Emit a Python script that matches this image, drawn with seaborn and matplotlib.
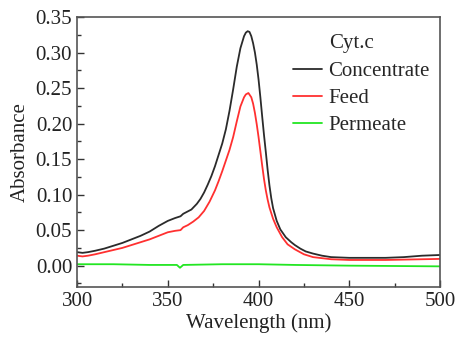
import numpy as np
import pandas as pd
import matplotlib
matplotlib.use("Agg")
import matplotlib.pyplot as plt
from matplotlib.ticker import MultipleLocator
import seaborn as sns

# values
wl_conc = [300, 303, 306, 310, 315, 320, 325, 330, 335, 340, 345, 350, 354, 357,
           358.5, 360, 363, 366, 368, 370, 372, 374, 376, 378, 380, 382, 384, 386,
           388, 390, 392, 393, 394, 395, 396, 397, 398, 399, 400, 401, 402, 403,
           404, 405, 406, 407, 408, 410, 412, 415, 418, 420, 423, 426, 430, 435,
           440, 450, 460, 470, 480, 490, 500]
abs_conc = [0.019, 0.018, 0.019, 0.021, 0.024, 0.028, 0.032, 0.037, 0.042, 0.048, 0.056, 0.063, 0.067, 0.0695,
            0.073, 0.075, 0.079, 0.087, 0.094, 0.103, 0.114, 0.126, 0.140, 0.156, 0.172, 0.192, 0.218, 0.248,
            0.280, 0.306, 0.323, 0.328, 0.330, 0.329, 0.323, 0.313, 0.300, 0.283, 0.262, 0.237, 0.210, 0.184,
            0.160, 0.135, 0.113, 0.095, 0.081, 0.063, 0.051, 0.040, 0.033, 0.029, 0.024, 0.020, 0.017, 0.014,
            0.012, 0.011, 0.011, 0.011, 0.012, 0.014, 0.015]

wl_feed = [300, 303, 306, 310, 315, 320, 325, 330, 335, 340, 345, 350, 354, 357,
           358.5, 361, 364, 367, 370, 373, 376, 378, 380, 382, 384, 386, 388, 390,
           392, 393, 394.4, 396, 397, 398, 399, 400, 401, 402, 403, 404, 405, 406,
           408, 410, 413, 416, 420, 425, 430, 440, 450, 470, 490, 500]
abs_feed = [0.014, 0.013, 0.014, 0.016, 0.019, 0.022, 0.025, 0.029, 0.033, 0.037, 0.042, 0.047, 0.049, 0.050,
            0.054, 0.057, 0.062, 0.068, 0.077, 0.090, 0.106, 0.119, 0.133, 0.148, 0.163, 0.181, 0.203, 0.224,
            0.237, 0.241, 0.243, 0.237, 0.228, 0.215, 0.199, 0.181, 0.161, 0.141, 0.122, 0.106, 0.093, 0.082,
            0.066, 0.054, 0.040, 0.030, 0.023, 0.016, 0.012, 0.009, 0.008, 0.008, 0.009, 0.0095]

wl_perm = [300, 320, 340, 355, 356.7, 358.5, 380, 400, 420, 450, 475, 500]
abs_perm = [0.002, 0.002, 0.001, 0.001, -0.003, 0.001, 0.002, 0.002, 0.001, 0.0, -0.0005, -0.001]

series = ["Concentrate", "Feed", "Permeate"]
colors = ["#2b2b2b", "#ff3030", "#22e622"]

df = pd.concat([
    pd.DataFrame({"wl": wl_conc, "A": abs_conc, "s": series[0]}),
    pd.DataFrame({"wl": wl_feed, "A": abs_feed, "s": series[1]}),
    pd.DataFrame({"wl": wl_perm, "A": abs_perm, "s": series[2]}),
])

sns.set_style("ticks")
plt.rcParams["font.family"] = ["Liberation Serif", "DejaVu Serif"]
plt.rcParams["font.size"] = 15

fig = plt.figure(figsize=(4.56, 3.4), dpi=100)
ax = fig.add_axes([0.169, 0.156, 0.796, 0.794])

sns.lineplot(data=df, x="wl", y="A", hue="s", hue_order=series,
             palette=colors, linewidth=1.3, ax=ax, sort=False, estimator=None)

ax.set_xlim(300, 500)
ax.set_ylim(-0.03, 0.35)
ax.xaxis.set_major_locator(MultipleLocator(50))
ax.xaxis.set_minor_locator(MultipleLocator(25))
ax.yaxis.set_major_locator(MultipleLocator(0.05))
ax.yaxis.set_minor_locator(MultipleLocator(0.025))
ax.yaxis.set_major_formatter(matplotlib.ticker.FormatStrFormatter("%.2f"))
ax.tick_params(which="major", direction="in", length=5, width=1, colors="#333333",
               labelcolor="#222222", labelsize=15)
ax.tick_params(which="minor", direction="in", length=3, width=1, colors="#333333")
for sp in ax.spines.values():
    sp.set_visible(True)
    sp.set_color("#555555")
    sp.set_linewidth(1.2)

ax.set_xlabel("Wavelength (nm)", fontsize=15, color="#222222", labelpad=2)
ax.set_ylabel("Absorbance", fontsize=15, color="#222222", labelpad=4)

leg = ax.legend(title="Cyt.c", loc="upper right", frameon=False, fontsize=15,
                title_fontsize=15, handlelength=1.4, handletextpad=0.3,
                labelspacing=0.35, borderaxespad=0.1, bbox_to_anchor=(1.0, 0.975))
leg._legend_box.align = "left"
leg._legend_box.sep = 6
leg.get_title().set_position((36, 0))
for line in leg.get_lines():
    line.set_linewidth(1.3)

fig.savefig("out.png", dpi=100)
